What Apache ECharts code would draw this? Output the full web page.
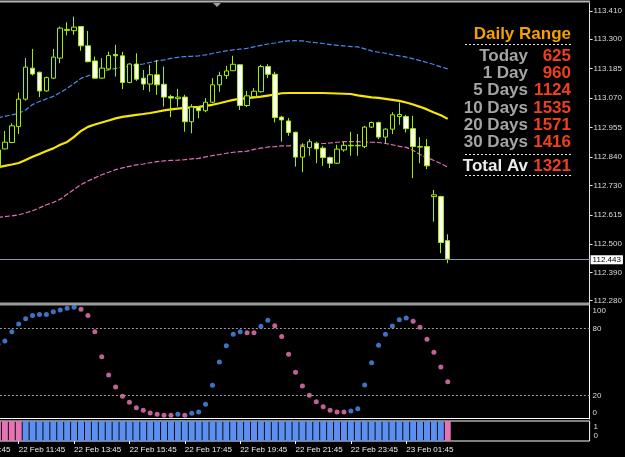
<!DOCTYPE html>
<html>
<head>
<meta charset="utf-8">
<title>M15 chart with Daily Range</title>
<script src="https://cdn.jsdelivr.net/npm/echarts@6/dist/echarts.min.js"></script>
<style>
  html, body { margin: 0; padding: 0; background: #000; }
  #chart { width: 625px; height: 457px; }
</style>
</head>
<body>
<div id="chart"></div>
<script>
// 15 min bars, first one (half off screen) opens 22 Feb 11:00, last one 23 Feb 03:15
const barOpen = [
  112.798, 112.872, 112.897, 112.959, 113.066, 113.187, 113.171, 113.098, 113.148, 113.226,
  113.334, 113.333, 113.349, 113.274, 113.215, 113.148, 113.184, 113.240, 113.235, 113.131,
  113.203, 113.148, 113.125, 113.161, 113.124, 113.076, 113.068, 113.074, 112.978, 113.035,
  113.021, 113.054, 113.122, 113.158, 113.177, 113.200, 113.041, 113.076, 113.095, 113.193,
  113.163, 112.996, 112.981, 112.937, 112.840, 112.877, 112.894, 112.875, 112.838, 112.816,
  112.868, 112.886, 112.884, 112.881, 112.957, 112.975, 112.918, 112.949, 112.998, 112.998,
  112.951, 112.881, 112.881, 112.686, 112.686, 112.514
];
const barClose = [
  112.868, 112.898, 112.962, 113.066, 113.191, 113.164, 113.098, 113.150, 113.230, 113.343,
  113.338, 113.347, 113.274, 113.212, 113.148, 113.187, 113.236, 113.235, 113.131, 113.203,
  113.144, 113.125, 113.161, 113.122, 113.074, 113.070, 113.074, 112.978, 113.035, 113.021,
  113.054, 113.122, 113.158, 113.176, 113.202, 113.041, 113.079, 113.097, 113.193, 113.163,
  112.994, 112.985, 112.936, 112.840, 112.881, 112.900, 112.872, 112.838, 112.816, 112.871,
  112.886, 112.884, 112.886, 112.957, 112.975, 112.918, 112.949, 113.005, 113.006, 112.951,
  112.881, 112.879, 112.806, 112.693, 112.507, 112.443
];
const barLow = [
  112.782, 112.870, 112.894, 112.930, 113.060, 113.158, 113.074, 113.095, 113.144, 113.206,
  113.314, 113.317, 113.255, 113.210, 113.146, 113.145, 113.180, 113.154, 113.105, 113.128,
  113.137, 113.102, 113.095, 113.083, 113.037, 112.996, 113.037, 112.939, 112.933, 112.992,
  113.015, 113.050, 113.095, 113.145, 113.176, 113.024, 113.035, 113.074, 113.092, 113.148,
  112.975, 112.900, 112.923, 112.803, 112.781, 112.845, 112.816, 112.806, 112.797, 112.813,
  112.861, 112.845, 112.845, 112.875, 112.953, 112.910, 112.894, 112.930, 112.966, 112.936,
  112.758, 112.816, 112.793, 112.588, 112.465, 112.426
];
const barHigh = [
  112.880, 112.942, 112.972, 113.092, 113.226, 113.262, 113.173, 113.154, 113.262, 113.349,
  113.366, 113.388, 113.351, 113.332, 113.232, 113.226, 113.251, 113.278, 113.251, 113.206,
  113.245, 113.180, 113.200, 113.219, 113.193, 113.083, 113.106, 113.083, 113.046, 113.037,
  113.070, 113.148, 113.173, 113.196, 113.235, 113.202, 113.098, 113.109, 113.200, 113.202,
  113.173, 113.001, 112.992, 112.939, 112.894, 112.910, 112.900, 112.884, 112.842, 112.888,
  112.900, 112.939, 112.930, 112.962, 112.978, 112.978, 112.953, 113.015, 113.053, 113.005,
  113.001, 112.918, 112.910, 112.712, 112.689, 112.539
];

// envelope: upper band, middle average, lower band
const bandUpper = [
  112.993, 112.999, 113.005, 113.010, 113.024, 113.045, 113.057, 113.067, 113.077, 113.092,
  113.108, 113.127, 113.147, 113.157, 113.166, 113.174, 113.180, 113.186, 113.191, 113.195,
  113.200, 113.203, 113.209, 113.215, 113.219, 113.225, 113.229, 113.232, 113.233, 113.235,
  113.239, 113.244, 113.250, 113.254, 113.258, 113.261, 113.264, 113.270, 113.276, 113.281,
  113.285, 113.290, 113.293, 113.294, 113.293, 113.289, 113.286, 113.283, 113.279, 113.276,
  113.274, 113.271, 113.270, 113.262, 113.254, 113.249, 113.245, 113.239, 113.235, 113.230,
  113.223, 113.216, 113.209, 113.201, 113.192, 113.184
];
const bandMiddle = [
  112.800, 112.806, 112.811, 112.817, 112.829, 112.841, 112.852, 112.864, 112.874, 112.888,
  112.899, 112.919, 112.942, 112.958, 112.967, 112.975, 112.983, 112.991, 112.997, 113.001,
  113.005, 113.008, 113.012, 113.017, 113.022, 113.026, 113.029, 113.032, 113.034, 113.036,
  113.040, 113.044, 113.050, 113.057, 113.063, 113.067, 113.070, 113.073, 113.076, 113.080,
  113.084, 113.089, 113.090, 113.090, 113.090, 113.090, 113.090, 113.090, 113.089, 113.088,
  113.087, 113.086, 113.081, 113.077, 113.073, 113.071, 113.067, 113.063, 113.059, 113.053,
  113.045, 113.036, 113.026, 113.014, 113.003, 112.989
];
const bandLower = [
  112.605, 112.608, 112.611, 112.615, 112.622, 112.631, 112.642, 112.654, 112.663, 112.676,
  112.695, 112.714, 112.733, 112.747, 112.759, 112.771, 112.781, 112.791, 112.798, 112.804,
  112.810, 112.813, 112.818, 112.822, 112.825, 112.827, 112.828, 112.830, 112.833, 112.835,
  112.841, 112.846, 112.850, 112.855, 112.859, 112.861, 112.863, 112.870, 112.875, 112.879,
  112.881, 112.884, 112.884, 112.886, 112.887, 112.888, 112.890, 112.893, 112.895, 112.898,
  112.900, 112.900, 112.900, 112.899, 112.898, 112.897, 112.893, 112.888, 112.882, 112.878,
  112.866, 112.850, 112.839, 112.827, 112.815, 112.801
];

// oscillator dots, u = rising (blue), d = falling (pink)
const stochValues = [
  66, 68.9, 77.3, 84.2, 88.9, 91.9, 92.8, 92.8, 95.2, 96.7,
  98.2, 99.1, 97.3, 91.9, 77.3, 54.9, 38.5, 27.8, 19.4, 14.1,
  9.2, 6.9, 4.5, 3.3, 2.4, 2.4, 3.3, 2.4, 4.2, 5.4,
  12.3, 29.3, 50.1, 64.7, 74.9, 77.3, 76.4, 76.4, 82.1, 87.5,
  82.6, 73.1, 57, 40.9, 28.6, 20.3, 14.6, 10.1, 6.9, 5.4,
  5.4, 6.3, 8.3, 29.5, 49.5, 65.1, 74.9, 82.4, 88, 89.5,
  86.6, 81.2, 70.5, 58.8, 45.7, 32.5
];
const stochState = 'uuuuuuuuuuuudddddddddddddduduuuuuuuudduuddddddddddduuuuuuuuudddddd';
const stochLevels = [20, 80];

// trend histogram, u = blue, d = pink
const trendState = 'ddddu' + 'uuuuuuuuuuuuuuuuuuuuuuuuuuuuuuuuuuuuuuuuuuuuuuuuuuuuuuuu' + 'uuuud';

const timeLabels = [
  '22 Feb 09:45', '22 Feb 11:45', '22 Feb 13:45', '22 Feb 15:45', '22 Feb 17:45',
  '22 Feb 19:45', '22 Feb 21:45', '22 Feb 23:45', '23 Feb 01:45'
];
const priceTicks = [113.410, 113.300, 113.185, 113.070, 112.955, 112.840, 112.730, 112.615, 112.500, 112.390, 112.280];

const rangeLabels = ['Today', '1 Day', '5 Days', '10 Days', '20 Days', '30 Days'];
const rangeValues = [625, 960, 1124, 1535, 1571, 1416];
const totalAverage = 1321;

// ---- layout ----
const LEAD = 5;          // empty slots before the first bar, holds the 09:45 label
const SLOTS = 91;
const GRID_LEFT = -40.1;
const GRID_W = 629.7;
const FONT = '"Liberation Sans", Arial, sans-serif';

const categories = [];
for (let c = 0; c < SLOTS; c++) {
  categories.push(c % 8 === 0 && timeLabels[c / 8] ? timeLabels[c / 8] : '');
}
const labelAt = (idx, val) => val !== '';

const candles = barOpen.map((o, k) => [k + LEAD, o, barClose[k], barLow[k], barHigh[k]]);
const asLine = arr => arr.map((v, k) => [k + LEAD, v]);
const stochBy = s => stochValues.map((v, k) => stochState[k] === s ? [k + LEAD, v] : null).filter(Boolean);
const trendBy = s => trendState.split('').map((t, k) => t === s ? [k + LEAD, 1] : null).filter(Boolean);
const lastClose = barClose[barClose.length - 1];

const chart = echarts.init(document.getElementById('chart'));

const graphic = [
  { type: 'line', shape: { x1: 0, y1: 1.5, x2: 590, y2: 1.5 }, style: { stroke: '#b4b4b4', lineWidth: 2 } },
  { type: 'polygon', shape: { points: [[213, 3], [221, 3], [217, 7]] }, style: { fill: '#a0a0a0' } },
  { type: 'rect', shape: { x: 0, y: 302.5, width: 590, height: 3 }, style: { fill: '#9c9c9c' } },
  {
    type: 'text', z: 10,
    style: { text: 'Daily Range', x: 571, y: 34, align: 'right', verticalAlign: 'middle',
      textAlign: 'right', textVerticalAlign: 'middle', fill: '#f5a000', font: 'bold 17px ' + FONT }
  }
];
[44.5, 154.5, 175.5].forEach(y => {
  graphic.push({ type: 'line', z: 10, shape: { x1: 465, y1: y, x2: 572, y2: y },
    style: { stroke: '#e8e8e8', lineWidth: 1, lineDash: [2, 2] } });
});
rangeLabels.forEach((lab, k) => {
  const y = 56 + k * 17.3;
  graphic.push({ type: 'text', z: 10, style: { text: lab, x: 528, y, align: 'right', verticalAlign: 'middle',
    textAlign: 'right', textVerticalAlign: 'middle', fill: '#a4a4a4', font: 'bold 17px ' + FONT } });
  graphic.push({ type: 'text', z: 10, style: { text: String(rangeValues[k]), x: 571, y, align: 'right', verticalAlign: 'middle',
    textAlign: 'right', textVerticalAlign: 'middle', fill: '#f0401a', font: 'bold 17px ' + FONT } });
});
graphic.push({ type: 'text', z: 10, style: { text: 'Total Av', x: 528, y: 166, align: 'right', verticalAlign: 'middle',
  textAlign: 'right', textVerticalAlign: 'middle', fill: '#ececec', font: 'bold 17px ' + FONT } });
graphic.push({ type: 'text', z: 10, style: { text: String(totalAverage), x: 571, y: 166, align: 'right', verticalAlign: 'middle',
  textAlign: 'right', textVerticalAlign: 'middle', fill: '#f0401a', font: 'bold 17px ' + FONT } });

const axisLabelBase = { color: '#dcdcdc', fontSize: 8, fontFamily: FONT };
const gridBase = { left: GRID_LEFT, width: GRID_W, outerBoundsMode: 'none', containLabel: false };

chart.setOption({
  backgroundColor: '#000',
  animation: false,
  textStyle: { fontFamily: FONT },
  graphic,
  grid: [
    Object.assign({}, gridBase, { top: 3, height: 300.5 }),
    Object.assign({}, gridBase, { top: 305, height: 114 }),
    Object.assign({}, gridBase, { top: 421, height: 20, show: true, borderColor: '#fff', borderWidth: 1 })
  ],
  xAxis: [
    { gridIndex: 0, type: 'category', data: categories, show: false },
    {
      gridIndex: 1, type: 'category', data: categories,
      axisLine: { show: true, lineStyle: { color: '#fff' } },
      axisTick: { show: false }, axisLabel: { show: false }
    },
    {
      gridIndex: 2, type: 'category', data: categories,
      axisLine: { show: false },
      axisTick: { show: true, alignWithLabel: true, interval: labelAt, length: 3, lineStyle: { color: '#fff' } },
      axisLabel: Object.assign({}, axisLabelBase, { interval: labelAt, align: 'left', margin: 5, color: '#ececec' })
    }
  ],
  yAxis: [
    {
      gridIndex: 0, type: 'value', position: 'right', min: 112.269, max: 113.441,
      splitLine: { show: false },
      axisLine: { show: true, lineStyle: { color: '#e4e4e4' } },
      axisTick: { show: true, length: 3, customValues: priceTicks, lineStyle: { color: '#e4e4e4' } },
      axisLabel: Object.assign({}, axisLabelBase, { customValues: priceTicks, margin: 4, formatter: v => v.toFixed(3) })
    },
    {
      gridIndex: 1, type: 'value', position: 'right', min: -0.9, max: 101.2,
      splitLine: { show: false },
      axisLine: { show: true, lineStyle: { color: '#fff' } },
      axisTick: { show: false },
      axisLabel: Object.assign({}, axisLabelBase, {
        customValues: [4.5, 20, 80, 96.1], margin: 3,
        formatter: v => v > 90 ? '100' : v < 10 ? '0' : String(v)
      })
    },
    {
      gridIndex: 2, type: 'value', position: 'right', min: 0, max: 1,
      splitLine: { show: false }, axisLine: { show: false }, axisTick: { show: false },
      axisLabel: Object.assign({}, axisLabelBase, {
        customValues: [0.25, 0.715], margin: 4, formatter: v => v > 0.5 ? '1' : '0'
      })
    }
  ],
  series: [
    {
      type: 'line', xAxisIndex: 0, yAxisIndex: 0, data: asLine(bandUpper), showSymbol: false, z: 2,
      lineStyle: { color: '#5086f2', width: 1.2, type: [5, 2] }
    },
    {
      type: 'line', xAxisIndex: 0, yAxisIndex: 0, data: asLine(bandMiddle), showSymbol: false, z: 2,
      lineStyle: { color: '#f6e600', width: 2.2 }
    },
    {
      type: 'line', xAxisIndex: 0, yAxisIndex: 0, data: asLine(bandLower), showSymbol: false, z: 2,
      lineStyle: { color: '#e072b4', width: 1.2, type: [5, 2] }
    },
    {
      type: 'candlestick', xAxisIndex: 0, yAxisIndex: 0, z: 3,
      encode: { x: 0, y: [1, 2, 3, 4] },
      data: candles, barWidth: 5,
      itemStyle: { color: '#000', color0: '#fff', borderColor: '#a2ec00', borderColor0: '#a2ec00', borderWidth: 1 },
      markLine: {
        silent: true, symbol: ['none', 'none'],
        data: [{ yAxis: lastClose }],
        lineStyle: { color: '#8c96a8', width: 1, type: 'solid' },
        label: {
          position: 'end', formatter: lastClose.toFixed(3), distance: 1,
          backgroundColor: '#fff', color: '#000', fontSize: 8, fontFamily: FONT, padding: [1, 2, 0, 2]
        }
      }
    },
    {
      type: 'scatter', xAxisIndex: 1, yAxisIndex: 1, data: stochBy('u'), symbolSize: 5,
      itemStyle: { color: '#4f8ef5' },
      markLine: {
        silent: true, symbol: ['none', 'none'], label: { show: false },
        data: stochLevels.map(v => ({ yAxis: v })),
        lineStyle: { color: '#9a9a9a', width: 1, type: [2, 2] }
      }
    },
    {
      type: 'scatter', xAxisIndex: 1, yAxisIndex: 1, data: stochBy('d'), symbolSize: 5,
      itemStyle: { color: '#f07ab8' }
    },
    {
      type: 'bar', xAxisIndex: 2, yAxisIndex: 2, data: trendBy('u'), barWidth: 6, barGap: '-100%',
      itemStyle: { color: '#5b90f0' }
    },
    {
      type: 'bar', xAxisIndex: 2, yAxisIndex: 2, data: trendBy('d'), barWidth: 6, barGap: '-100%',
      itemStyle: { color: '#e474b4' }
    }
  ]
});
</script>
</body>
</html>
